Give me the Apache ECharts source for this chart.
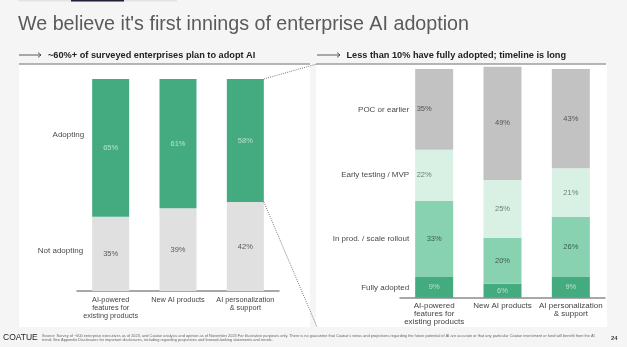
<!DOCTYPE html>
<html>
<head>
<meta charset="utf-8">
<script src="https://cdn.jsdelivr.net/npm/echarts@6/dist/echarts.min.js"></script>
<style>
  html, body { margin: 0; padding: 0; background: #f5f5f5; }
  #chart { width: 627px; height: 347px; }
</style>
</head>
<body>
<div id="chart"></div>
<script>
// ---- data ----
const categories = ['AI-powered\nfeatures for\nexisting products', 'New AI products', 'AI personalization\n& support'];

// left panel: share planning to adopt
const notAdopting = [35, 39, 42];
const adopting = [65, 61, 58];
const leftRowNames = ['Not adopting', 'Adopting'];

// right panel: adoption stage
const fullyAdopted = [9, 6, 9];
const inProduction = [33, 20, 26];
const earlyTesting = [22, 25, 21];
const pocOrEarlier = [35, 49, 43];
const rightRowNames = ['Fully adopted', 'In prod. / scale rollout', 'Early testing / MVP', 'POC or earlier'];

const titleText = "We believe it's first innings of enterprise AI adoption";
const leftHeading = '~60%+ of surveyed enterprises plan to adopt AI';
const rightHeading = 'Less than 10% have fully adopted; timeline is long';
const sourceLine1 = "Source: Survey of ~600 enterprise executives as of 2023, and Coatue analysis and opinion as of November 2023 For illustrative purposes only. There is no guarantee that Coatue's views and projections regarding the future potential of AI are accurate or that any particular Coatue investment or fund will benefit from the AI";
const sourceLine2 = 'trend. See Appendix Disclosures for important disclosures, including regarding projections and forward-looking statements and trends.';
const pageNumber = '24';

// ---- styling ----
const FONT = '"Liberation Sans", Arial, Helvetica, sans-serif';
const GREEN = '#44ab80';
const MID_GREEN = '#88d1b1';
const PALE_GREEN = '#d9f0e5';
const GREY = '#c2c2c2';
const LIGHT_GREY = '#e0e0e0';

const chart = echarts.init(document.getElementById('chart'), null, { renderer: 'canvas' });

function pctLabel(color, size) {
  return {
    show: true, position: 'inside', formatter: '{c}%',
    color: color, fontSize: size, fontFamily: FONT
  };
}

// data with an optional label nudge on the first column
function withShift(values, shiftX) {
  return values.map((v, i) => (i === 0 && shiftX) ? { value: v, label: { offset: [shiftX, 0] } } : v);
}

// invisible bars stacked over the first column, carrying row names on their left side
function rowNameSeries(xIndex, yIndex, stackName, values, name, width, distance, offsetY) {
  return {
    type: 'bar', xAxisIndex: xIndex, yAxisIndex: yIndex, stack: stackName,
    barWidth: width, barGap: '-100%', silent: true,
    data: values.map((v, i) => i === 0 ? v : '-'),
    itemStyle: { color: 'rgba(0,0,0,0)' },
    label: {
      show: true, position: 'left', distance: distance, offset: [0, offsetY],
      formatter: name, color: '#4a4a4a', fontSize: 8, fontFamily: FONT
    }
  };
}

const LBW = 37, RBW = 38;

const series = [
  // left panel
  { type: 'bar', xAxisIndex: 0, yAxisIndex: 0, stack: 'L', barWidth: LBW, barGap: '-100%', silent: true,
    data: notAdopting, itemStyle: { color: LIGHT_GREY }, label: pctLabel('#5a5a5a', 7.5) },
  { type: 'bar', xAxisIndex: 0, yAxisIndex: 0, stack: 'L', barWidth: LBW, barGap: '-100%', silent: true,
    data: adopting, itemStyle: { color: GREEN }, label: pctLabel('#b4e2ca', 7.5) },
  rowNameSeries(0, 0, 'Lnames', notAdopting, leftRowNames[0], LBW, 9, -3),
  rowNameSeries(0, 0, 'Lnames', adopting, leftRowNames[1], LBW, 8, -13),

  // right panel
  { type: 'bar', xAxisIndex: 1, yAxisIndex: 1, stack: 'R', barWidth: RBW, barGap: '-100%', silent: true,
    data: fullyAdopted, itemStyle: { color: GREEN }, label: pctLabel('#b4e2ca', 7.5) },
  { type: 'bar', xAxisIndex: 1, yAxisIndex: 1, stack: 'R', barWidth: RBW, barGap: '-100%', silent: true,
    data: inProduction, itemStyle: { color: MID_GREEN }, label: pctLabel('#3d5f50', 7.5) },
  { type: 'bar', xAxisIndex: 1, yAxisIndex: 1, stack: 'R', barWidth: RBW, barGap: '-100%', silent: true,
    data: withShift(earlyTesting, -10), itemStyle: { color: PALE_GREEN }, label: pctLabel('#6b7f75', 7.5) },
  { type: 'bar', xAxisIndex: 1, yAxisIndex: 1, stack: 'R', barWidth: RBW, barGap: '-100%', silent: true,
    data: withShift(pocOrEarlier, -10), itemStyle: { color: GREY }, label: pctLabel('#555555', 7.5) },
  rowNameSeries(1, 1, 'Rnames', fullyAdopted, rightRowNames[0], RBW, 6, 0),
  rowNameSeries(1, 1, 'Rnames', inProduction, rightRowNames[1], RBW, 6, 0),
  rowNameSeries(1, 1, 'Rnames', earlyTesting, rightRowNames[2], RBW, 6, 0),
  rowNameSeries(1, 1, 'Rnames', pocOrEarlier, rightRowNames[3], RBW, 6, 0)
];

function catAxis(gridIndex, fontSize, margin) {
  return {
    type: 'category', gridIndex: gridIndex, data: categories,
    axisLine: { show: true, lineStyle: { color: '#8c8c8c', width: 1.5 } },
    axisTick: { show: false },
    axisLabel: {
      interval: 0, color: '#444', fontSize: fontSize, lineHeight: 8,
      fontFamily: FONT, margin: margin
    }
  };
}

function valAxis(gridIndex) {
  return {
    type: 'value', gridIndex: gridIndex, min: 0, max: 100,
    show: false, splitLine: { show: false }
  };
}

function headingArrow(x1, x2, y) {
  return [
    { type: 'line', shape: { x1: x1, y1: y, x2: x2, y2: y }, style: { stroke: '#333', lineWidth: 0.8 } },
    { type: 'polyline', shape: { points: [[x2 - 3, y - 2.4], [x2, y], [x2 - 3, y + 2.4]] },
      style: { stroke: '#333', lineWidth: 0.8, fill: null } }
  ];
}

const HEAD_Y = 55;

const graphics = [
  // slide tab strip
  { type: 'rect', shape: { x: 18, y: 0, width: 159, height: 1.5 }, style: { fill: '#e4e4e4' }, z: -5 },
  { type: 'rect', shape: { x: 71, y: 0, width: 53, height: 1.5 }, style: { fill: '#1f2236' }, z: -4 },
  // white panels
  { type: 'rect', shape: { x: 19, y: 64, width: 291, height: 263 }, style: { fill: '#ffffff' }, z: -5 },
  { type: 'rect', shape: { x: 316, y: 64, width: 291, height: 263 }, style: { fill: '#ffffff' }, z: -5 },
  // panel header rules
  { type: 'line', shape: { x1: 19, y1: 64, x2: 310, y2: 64 }, style: { stroke: '#9c9c9c', lineWidth: 1.5 } },
  { type: 'line', shape: { x1: 316, y1: 64, x2: 606, y2: 64 }, style: { stroke: '#9c9c9c', lineWidth: 1.5 } },
  // title
  { type: 'text', x: 18, y: 24.5, style: { text: titleText, fontSize: 19.7, fontFamily: FONT, fill: '#5a5a5a',
      verticalAlign: 'middle', align: 'left' } },
  // heading arrows
  ...headingArrow(19, 41, HEAD_Y),
  ...headingArrow(317, 340, HEAD_Y),
  // headings
  { type: 'text', x: 48, y: HEAD_Y, style: { text: leftHeading, fontSize: 9.2, fontWeight: 'bold', fontFamily: FONT,
      fill: '#222', verticalAlign: 'middle' } },
  { type: 'text', x: 346.5, y: HEAD_Y, style: { text: rightHeading, fontSize: 9.2, fontWeight: 'bold', fontFamily: FONT,
      fill: '#222', verticalAlign: 'middle' } },
  // footer
  { type: 'text', x: 3, y: 338, style: { text: 'COATUE', fontSize: 8.5, fontFamily: FONT, fill: '#222',
      verticalAlign: 'middle' } },
  { type: 'text', x: 42, y: 335.7, style: { text: sourceLine1, fontSize: 3.9, fontFamily: FONT, fill: '#666',
      verticalAlign: 'middle' } },
  { type: 'text', x: 42, y: 339.6, style: { text: sourceLine2, fontSize: 3.9, fontFamily: FONT, fill: '#666',
      verticalAlign: 'middle' } },
  { type: 'text', x: 611, y: 338, style: { text: pageNumber, fontSize: 6, fontWeight: 'bold', fontFamily: FONT,
      fill: '#444', verticalAlign: 'middle' } }
];

chart.setOption({
  animation: false,
  backgroundColor: '#f5f5f5',
  textStyle: { fontFamily: FONT },
  grid: [
    { left: 77, right: 348, top: 79, bottom: 56 },
    { left: 400, right: 22, top: 66.7, bottom: 49.3 }
  ],
  xAxis: [catAxis(0, 7.3, 4.5), catAxis(1, 8, 4)],
  yAxis: [valAxis(0), valAxis(1)],
  series: series,
  graphic: graphics
});

// dotted connectors from the third left column to the right panel
const topCorner = chart.convertToPixel({ xAxisIndex: 0, yAxisIndex: 0 }, [2, 100]);
const splitCorner = chart.convertToPixel({ xAxisIndex: 0, yAxisIndex: 0 }, [2, notAdopting[2]]);
const edgeX = topCorner[0] + LBW / 2;
graphics.push(
  { type: 'line', shape: { x1: edgeX, y1: topCorner[1], x2: 317, y2: 64 },
    style: { stroke: '#555', lineWidth: 0.8, lineDash: [1, 1.2] }, z: 10 },
  { type: 'line', shape: { x1: edgeX, y1: splitCorner[1], x2: 317, y2: 327 },
    style: { stroke: '#555', lineWidth: 0.8, lineDash: [1, 1.2] }, z: 10 }
);
chart.setOption({ graphic: graphics });
</script>
</body>
</html>
